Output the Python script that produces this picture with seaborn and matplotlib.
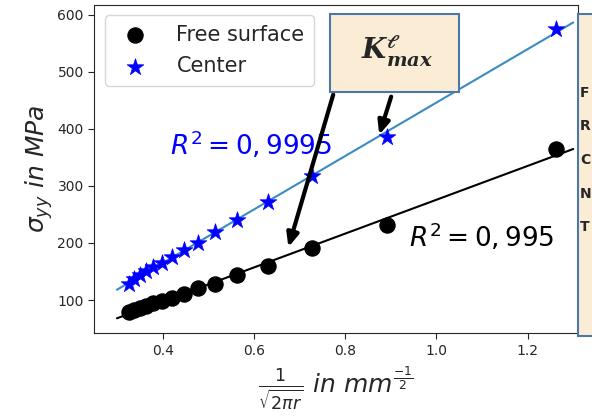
import numpy as np
import matplotlib.pyplot as plt
import seaborn as sns
from matplotlib.patches import Rectangle

# -----------------------------
# Data
# -----------------------------
inv_sqrt_r = [1.262, 0.892, 0.728, 0.631, 0.564, 0.515, 0.477, 0.446,
              0.421, 0.399, 0.380, 0.364, 0.350, 0.337, 0.326]
free_surface = [365, 232, 191, 160, 144, 128, 121, 110,
                104, 99, 94, 90, 86, 82, 79]
center = [575, 386, 317, 272, 241, 219, 200, 188,
          176, 165, 157, 150, 143, 136, 128]
r2_free = "0,995"
r2_center = "0,9995"
side_letters = ["F", "R", "C", "N", "T"]

# -----------------------------
# Figure
# -----------------------------
sns.set_style("ticks")
plt.rcParams['font.family'] = ['DejaVu Sans']

fig = plt.figure(figsize=(5.92, 4.19), dpi=100)
ax = fig.add_axes([0.159, 0.205, 0.817, 0.783])

x = np.array(inv_sqrt_r)
x_fit = np.array([0.30, 1.30])
for y, line_col in [(free_surface, 'black'), (center, '#3a8cc0')]:
    k, b = np.polyfit(x, np.array(y), 1)
    ax.plot(x_fit, k * x_fit + b, color=line_col, lw=1.5, zorder=2)

sns.scatterplot(x=inv_sqrt_r, y=free_surface, marker='o', color='black',
                s=120, edgecolor='black', label='Free surface', ax=ax, zorder=3)
sns.scatterplot(x=inv_sqrt_r, y=center, marker='*', color='blue',
                s=160, edgecolor='blue', linewidth=0.5, label='Center', ax=ax, zorder=3)

ax.set_xlim(0.25, 1.31)
ax.set_ylim(42, 617)
ax.set_xticks([0.4, 0.6, 0.8, 1.0, 1.2])
ax.set_yticks([100, 200, 300, 400, 500, 600])
ax.tick_params(labelsize=10, length=4)

ax.set_ylabel(r'$\sigma_{yy}\ in\ MPa$', fontsize=18, labelpad=2)
ax.set_xlabel(r'$\frac{1}{\sqrt{2\pi r}}\ in\ mm^{\frac{-1}{2}}$', fontsize=18, labelpad=5)

ax.legend(loc='upper left', fontsize=15, frameon=True, borderpad=0.45,
          handletextpad=1.0, labelspacing=0.55, markerscale=1.0)

ax.text(0.417, 372, r'$R^2 = ' + r2_center + '$', color='blue', fontsize=19,
        va='center')
ax.text(0.94, 210, r'$R^2 = ' + r2_free + '$', color='black', fontsize=19,
        va='center')

# annotation box and arrows
box_fc = '#fbecd5'
box_ec = '#4b78a8'
fig.patches.append(Rectangle((330 / 592, 1 - 92 / 419), 129 / 592, 78 / 419,
                             transform=fig.transFigure, fc=box_fc, ec=box_ec,
                             lw=1.5, zorder=5))
fig.text(397 / 592, 1 - 50 / 419, r'$\mathbfit{K}^{\mathbfit{\ell}}_{\mathbfit{max}}$',
         fontsize=20, ha='center', va='center', zorder=6,
         math_fontfamily='dejavuserif')

ax.annotate('', xy=(0.674, 188), xycoords='data',
            xytext=(334 / 592, 1 - 92 / 419), textcoords='figure fraction',
            arrowprops=dict(arrowstyle='-|>,head_length=0.8,head_width=0.35',
                            color='black', lw=3), zorder=6)
ax.annotate('', xy=(0.873, 385), xycoords='data',
            xytext=(392 / 592, 1 - 94 / 419), textcoords='figure fraction',
            arrowprops=dict(arrowstyle='-|>,head_length=0.8,head_width=0.35',
                            color='black', lw=3), zorder=6)

# side box, cut at the picture edge
fig.patches.append(Rectangle((578 / 592, 1 - 336 / 419), 30 / 592, 322 / 419,
                             transform=fig.transFigure, fc=box_fc, ec=box_ec,
                             lw=1.5, zorder=5))
for i, letter in enumerate(side_letters):
    fig.text(580 / 592, 1 - (93 + 33.5 * i) / 419, letter, fontsize=10,
             fontweight='bold', va='center', ha='left', zorder=6)

fig.savefig('out.png', dpi=100)
